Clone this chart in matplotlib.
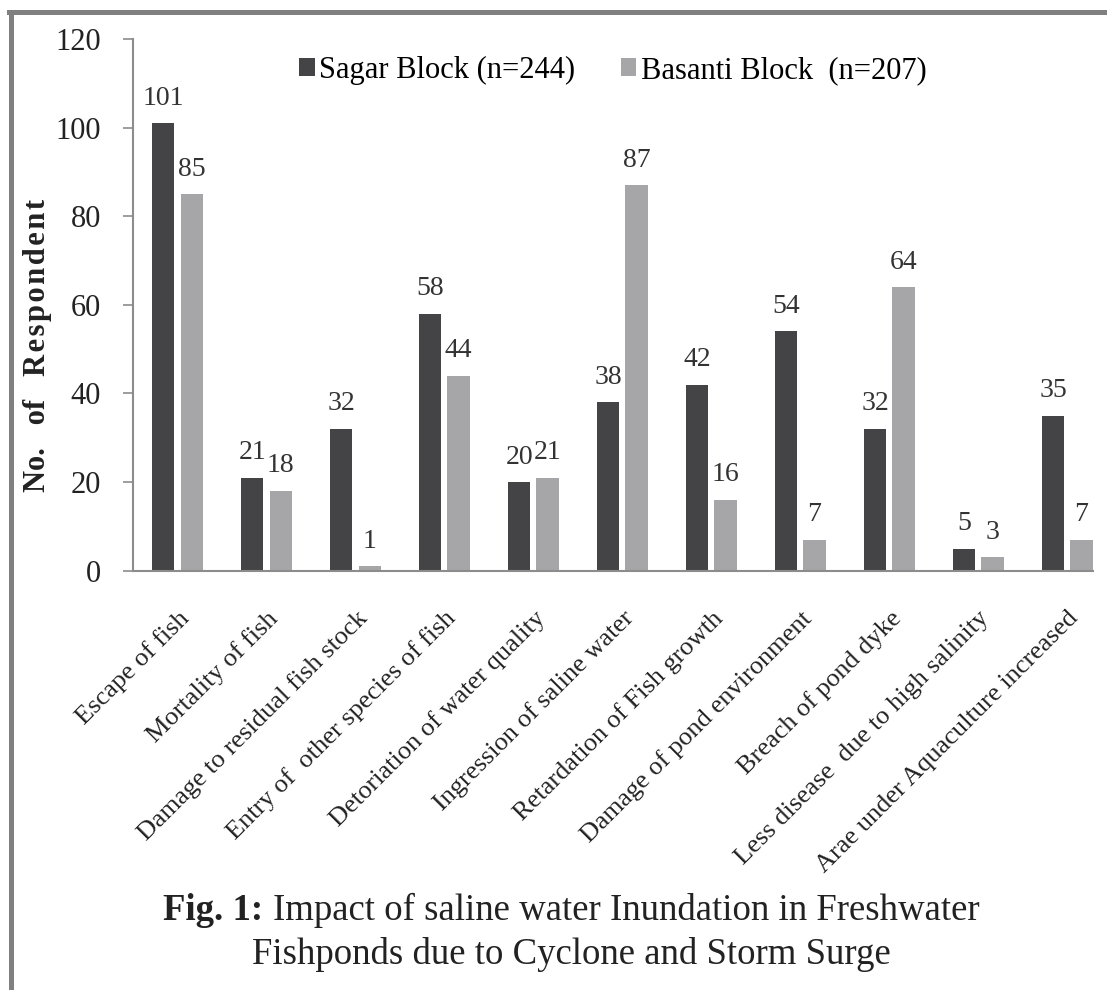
import matplotlib
matplotlib.use("Agg")
import matplotlib.pyplot as plt
import numpy as np
from matplotlib.lines import Line2D

categories = ["Escape of fish", "Mortality of fish", "Damage to residual fish stock",
              "Entry of  other species of fish", "Detoriation of water quality",
              "Ingression of saline water", "Retardation of Fish growth",
              "Damage of pond environment", "Breach of pond dyke",
              "Less disease  due to high salinity", "Arae under Aquaculture increased"]
sagar = [101, 21, 32, 58, 20, 38, 42, 54, 32, 5, 35]
basanti = [85, 18, 1, 44, 21, 87, 16, 7, 64, 3, 7]
series_names = ["Sagar Block (n=244)", "Basanti Block  (n=207)"]

plt.rcParams['font.family'] = ['Liberation Serif', 'DejaVu Serif']

fig = plt.figure(figsize=(11.07, 9.9), dpi=100)
ax = fig.add_axes([0.1201, 0.4235, 0.8673, 0.5371])

x = np.arange(len(categories))
w = 0.25
dark = "#444446"
light = "#a6a6a8"
b1 = ax.bar(x - 0.16, sagar, w, color=dark, label=series_names[0])
b2 = ax.bar(x + 0.16, basanti, w, color=light, label=series_names[1])

for bars, vals in ((b1, sagar), (b2, basanti)):
    for b, v in zip(bars, vals):
        ax.annotate(str(v), (b.get_x() + b.get_width() / 2, v), xytext=(0, 9),
                    textcoords="offset points", ha="center", va="bottom",
                    fontsize=20, color="#333333")

ax.set_xlim(-0.5, 10.29)
ax.set_ylim(0, 120)
ax.set_yticks(range(0, 121, 20))
ax.tick_params(axis='y', labelsize=22, length=7, width=1.2, color="#8c8c8c", pad=16,
               labelcolor="#222222")
ax.set_xticks(x)
ax.set_xticklabels(categories, rotation=45, ha="right", rotation_mode="anchor",
                   fontsize=19, color="#222222")
ax.tick_params(axis='x', length=0, pad=26)

for s in ("top", "right"):
    ax.spines[s].set_visible(False)
for s in ("left", "bottom"):
    ax.spines[s].set_color("#8c8c8c")
    ax.spines[s].set_linewidth(1.5)

# y label placed by hand, letter spaced like the original
hs = "\u200a"
fig.text(38 / 1107, 1 - 345 / 990,
         "No." + "   of   " + hs.join("Respondent"),
         rotation=90, ha="center", va="center", fontsize=22, fontweight="bold",
         color="#222222")

leg = ax.legend(loc="upper center", bbox_to_anchor=(0.5, 1.02), ncol=2, frameon=False,
                fontsize=22, handlelength=0.5, handleheight=0.5, handletextpad=0.15,
                columnspacing=1.5)

# caption: bold "Fig. 1:" followed by regular text, centred as one line
cap_y1 = 1 - 910 / 990
cap_y2 = 1 - 955 / 990
t1 = fig.text(0, cap_y1, "Fig. 1: ", ha="left", va="center", fontsize=26.5,
              fontweight="bold", color="#222222")
t2 = fig.text(0, cap_y1, "Impact of saline water Inundation in Freshwater",
              ha="left", va="center", fontsize=26.5, color="#222222")
r = fig.canvas.get_renderer()
w1 = t1.get_window_extent(r).width / fig.bbox.width
w2 = t2.get_window_extent(r).width / fig.bbox.width
x0 = 0.516 - (w1 + w2) / 2
t1.set_x(x0)
t2.set_x(x0 + w1)
fig.text(0.516, cap_y2, "Fishponds due to Cyclone and Storm Surge",
         ha="center", va="center", fontsize=26.5, color="#222222")

# frame lines of the figure
fig.add_artist(Line2D([0.0085, 1.0], [0.988, 0.988], color="#808080", lw=3.6,
                      transform=fig.transFigure))
fig.add_artist(Line2D([0.0095, 0.0095], [0.0, 0.988], color="#808080", lw=3.6,
                      transform=fig.transFigure))

fig.savefig("out.png", dpi=100, facecolor="white")
